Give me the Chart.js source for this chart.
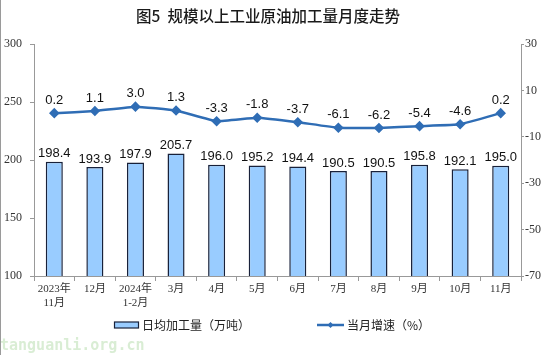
<!DOCTYPE html>
<html><head><meta charset="utf-8">
<script src="https://cdn.jsdelivr.net/npm/chart.js@4"></script>
<style>html,body{margin:0;padding:0;background:#fff;}</style>
</head><body>
<canvas id="c" width="550" height="355"></canvas>
<script>
const chartTitle = '图5  规模以上工业原油加工量月度走势';
const categories = [['2023年','11月'],'12月',['2024年','1-2月'],'3月','4月','5月','6月','7月','8月','9月','10月','11月'];
const dailyOutput = [198.4,193.9,197.9,205.7,196.0,195.2,194.4,190.5,190.5,195.8,192.1,195.0];
const monthlyGrowth = [0.2,1.1,3.0,1.3,-3.3,-1.8,-3.7,-6.1,-6.2,-5.4,-4.6,0.2];
const leftTicks = [100,150,200,250,300];
const rightTicks = [-70,-50,-30,-10,10,30];
const seriesNames = ['日均加工量（万吨）','当月增速（%）'];
const watermark = 'tanguanli.org.cn';

const BAR_FILL = '#99CCFF', BAR_BORDER = '#18213a', LINE = '#2f6db5';
const CJK = '"Noto Sans CJK SC", "Liberation Sans", sans-serif';
const SERIF = '"Liberation Serif", "Noto Sans CJK SC", serif';

const extras = {
  id: 'extras',
  afterDatasetsDraw(chart) {
    const ctx = chart.ctx;
    ctx.save();
    ctx.fillStyle = '#111';
    ctx.font = '13px "Liberation Sans", Arial, sans-serif';
    ctx.textAlign = 'center';
    ctx.textBaseline = 'middle';
    chart.data.datasets.forEach((ds, di) => {
      const meta = chart.getDatasetMeta(di);
      meta.data.forEach((el, i) => {
        const v = ds.data[i];
        if (ds.type === 'bar') ctx.fillText(v.toFixed(1), el.x, el.y - 8);
        else ctx.fillText(v.toFixed(1), el.x, el.y - 13);
      });
    });
    ctx.restore();
  },
  afterDraw(chart) {
    const ctx = chart.ctx;
    ctx.save();
    ctx.fillStyle = '#1a1a1a';
    ctx.font = '500 15.5px ' + CJK;
    ctx.textAlign = 'center';
    ctx.textBaseline = 'middle';
    ctx.fillText(chartTitle, 268, 16);
    const ly = 325;
    ctx.fillStyle = BAR_FILL;
    ctx.fillRect(114.5, ly - 3, 24, 6);
    ctx.strokeStyle = BAR_BORDER;
    ctx.lineWidth = 1.2;
    ctx.strokeRect(114.5, ly - 3, 24, 6);
    ctx.fillStyle = '#222';
    ctx.font = '12px ' + CJK;
    ctx.textAlign = 'left';
    ctx.fillText(seriesNames[0], 142, ly);
    ctx.strokeStyle = LINE;
    ctx.lineWidth = 2.5;
    ctx.beginPath(); ctx.moveTo(317, ly); ctx.lineTo(344, ly); ctx.stroke();
    ctx.fillStyle = LINE;
    ctx.beginPath(); ctx.moveTo(330.5, ly - 3); ctx.lineTo(333.5, ly); ctx.lineTo(330.5, ly + 3); ctx.lineTo(327.5, ly); ctx.closePath(); ctx.fill();
    ctx.fillStyle = '#222';
    ctx.fillText(seriesNames[1], 347, ly);
    ctx.fillStyle = 'rgba(170,215,160,0.45)';
    ctx.font = 'bold 15px "DejaVu Sans Mono", monospace';
    ctx.fillText(watermark, 0, 346);
    ctx.strokeStyle = '#9a9a9a';
    ctx.lineWidth = 1;
    ctx.beginPath(); ctx.moveTo(0.5, 0); ctx.lineTo(0.5, 355); ctx.stroke();
    ctx.restore();
  }
};

new Chart(document.getElementById('c'), {
  data: {
    labels: categories,
    datasets: [
      {
        type: 'line', label: seriesNames[1], data: monthlyGrowth, yAxisID: 'y1', order: 0,
        borderColor: LINE, backgroundColor: LINE, borderWidth: 2.5,
        pointStyle: 'rectRot', pointRadius: 3.5, pointBackgroundColor: LINE, pointBorderColor: LINE,
        tension: 0.1
      },
      {
        type: 'bar', label: seriesNames[0], data: dailyOutput, yAxisID: 'y', order: 1,
        backgroundColor: BAR_FILL, borderColor: BAR_BORDER, borderWidth: 1.5,
        barPercentage: 0.42, categoryPercentage: 1
      }
    ]
  },
  options: {
    responsive: false, animation: false, devicePixelRatio: 1,
    layout: { padding: { top: 44, left: 0, right: 0, bottom: 0 } },
    plugins: { legend: { display: false }, title: { display: false }, tooltip: { enabled: false } },
    scales: {
      x: {
        offset: true,
        grid: { display: true, drawOnChartArea: false, offset: true, tickLength: 5, color: '#999' },
        border: { color: '#999' },
        ticks: { color: '#333', font: { family: SERIF, size: 11, lineHeight: 1.2 }, padding: 2, maxRotation: 0, autoSkip: false },
        afterFit(s) { s.height = 79; }
      },
      y: {
        position: 'left', min: 100, max: 300,
        afterBuildTicks(s) { s.ticks = leftTicks.map(v => ({ value: v })); },
        grid: { drawOnChartArea: false, tickLength: 4, color: '#999' },
        border: { color: '#999' },
        ticks: { color: '#333', font: { family: SERIF, size: 12 }, padding: 8 },
        afterFit(s) { s.width = 34; }
      },
      y1: {
        position: 'right', min: -70, max: 30,
        afterBuildTicks(s) { s.ticks = rightTicks.map(v => ({ value: v })); },
        grid: { drawOnChartArea: false, tickLength: 3, color: '#999' },
        border: { color: '#999' },
        ticks: { color: '#333', font: { family: SERIF, size: 12 }, padding: 1 },
        afterFit(s) { s.width = 29; }
      }
    }
  },
  plugins: [extras]
});
</script>
</body></html>
